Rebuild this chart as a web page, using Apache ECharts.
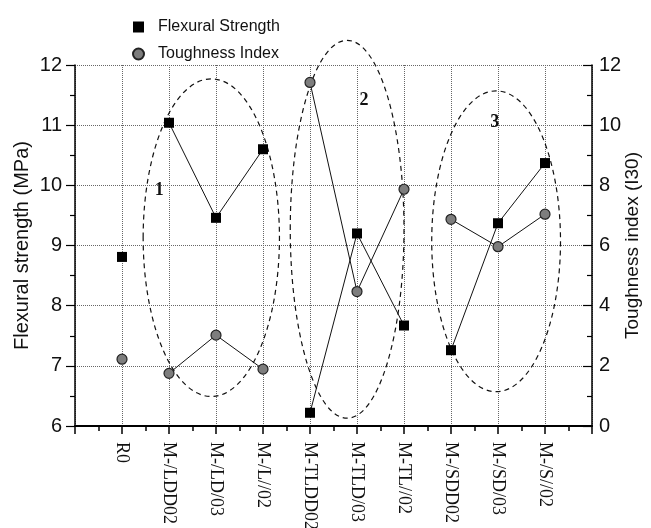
<!DOCTYPE html>
<html>
<head>
<meta charset="utf-8">
<script src="https://cdn.jsdelivr.net/npm/echarts@6/dist/echarts.min.js"></script>
<style>
  html, body { margin: 0; padding: 0; background: #fff; }
  #chart { width: 651px; height: 528px; }
</style>
</head>
<body>
<div id="chart"></div>
<script>
const categories = ['R0', 'M-/LDD02', 'M-/LD/03', 'M-/L//02', 'M-TLDD02', 'M-TLD/03', 'M-TL//02', 'M-/SDD02', 'M-/SD/03', 'M-/S//02'];
const flexural = [8.81, 11.04, 9.46, 10.60, 6.22, 9.20, 7.67, 7.26, 9.37, 10.37];
const toughness = [2.22, 1.75, 3.02, 1.89, 11.42, 4.47, 7.87, 6.87, 5.96, 7.04];
const groups = [[1, 2, 3], [4, 5, 6], [7, 8, 9]];
const groupNames = ['1', '2', '3'];
const leftTicks = [6, 12, 1];
const rightTicks = [0, 12, 2];

// annotation geometry in data units (x position, flexural scale)
const ellipseCenters = [[2.9, 9.13], [5.79, 9.27], [8.96, 9.07]];
const ellipseRadii = [[1.45, 2.64], [1.21, 3.14], [1.37, 2.5]];
const groupNameAt = [[1.79, 9.91], [6.15, 11.42], [8.93, 11.04]];

const chart = echarts.init(document.getElementById('chart'));
const sans = 'Liberation Sans, Arial, sans-serif';
const serif = 'Liberation Serif, Times New Roman, serif';

const lineSeries = [];
groups.forEach((g, gi) => {
  lineSeries.push({
    type: 'line', name: 'fs-line-' + gi, yAxisIndex: 0, symbol: 'none', silent: true,
    lineStyle: { color: '#111', width: 1 }, z: 2,
    data: g.map(i => [i + 1, flexural[i]])
  });
  lineSeries.push({
    type: 'line', name: 'ti-line-' + gi, yAxisIndex: 1, symbol: 'none', silent: true,
    lineStyle: { color: '#111', width: 1 }, z: 2,
    data: g.map(i => [i + 1, toughness[i]])
  });
});

const option = {
  backgroundColor: '#fff',
  animation: false,
  legend: {
    orient: 'vertical', left: 127, top: 14, itemGap: 11,
    itemWidth: 11, itemHeight: 11,
    textStyle: { fontFamily: sans, fontSize: 16, color: '#111', padding: [0, 0, 0, 9], lineHeight: 16 },
    data: [{ name: 'Flexural Strength', icon: 'rect' }, { name: 'Toughness Index', icon: 'circle' }]
  },
  grid: { left: 75, right: 59, top: 65, bottom: 102, containLabel: false, outerBoundsMode: 'none' },
  xAxis: {
    type: 'value', min: 0, max: categories.length + 1, interval: 1,
    axisLine: { show: true, lineStyle: { color: '#000', width: 2 } },
    axisTick: { show: true, length: 8, lineStyle: { color: '#000', width: 1.5 } },
    minorTick: { show: true, splitNumber: 2, length: 5, lineStyle: { color: '#000', width: 1.5 } },
    splitLine: { show: true, lineStyle: { color: '#666', type: 'dotted', width: 1 } },
    axisLabel: {
      rotate: -90, margin: 16, fontFamily: serif, fontSize: 18, color: '#111',
      formatter: v => categories[v - 1] || ''
    }
  },
  yAxis: [{
    type: 'value', min: leftTicks[0], max: leftTicks[1], interval: leftTicks[2], position: 'left',
    name: 'Flexural strength (MPa)', nameLocation: 'middle', nameRotate: 90, nameGap: 43, nameMoveOverlap: false,
    nameTextStyle: { fontFamily: sans, fontSize: 20, color: '#111' },
    axisLine: { show: true, lineStyle: { color: '#000', width: 1.5 } },
    axisTick: { show: true, inside: false, length: 9, lineStyle: { color: '#000', width: 1.2 } },
    minorTick: { show: true, splitNumber: 2, length: 5, lineStyle: { color: '#000', width: 1.2 } },
    splitLine: { show: true, lineStyle: { color: '#666', type: 'dotted', width: 1 } },
    axisLabel: { margin: 13, fontFamily: sans, fontSize: 20, color: '#111' }
  }, {
    type: 'value', min: rightTicks[0], max: rightTicks[1], interval: rightTicks[2], position: 'right',
    name: 'Toughness index (I30)', nameLocation: 'middle', nameRotate: 90, nameGap: 31, nameMoveOverlap: false,
    nameTextStyle: { fontFamily: sans, fontSize: 19, color: '#111' },
    axisLine: { show: true, lineStyle: { color: '#000', width: 1.5 } },
    axisTick: { show: true, inside: true, length: 9, lineStyle: { color: '#000', width: 1.2 } },
    minorTick: { show: true, splitNumber: 2, length: 5, lineStyle: { color: '#000', width: 1.2 } },
    splitLine: { show: false },
    axisLabel: { margin: 7, fontFamily: sans, fontSize: 20, color: '#111' }
  }],
  series: [
    ...lineSeries,
    {
      type: 'custom', name: 'groups', coordinateSystem: 'cartesian2d', xAxisIndex: 0, yAxisIndex: 0,
      clip: false, silent: true, z: 1,
      data: ellipseCenters.map((c, i) => [c[0], c[1], ellipseRadii[i][0], ellipseRadii[i][1], groupNameAt[i][0], groupNameAt[i][1], i]),
      renderItem: (params, api) => {
        const c = api.coord([api.value(0), api.value(1)]);
        const s = api.size([api.value(2), api.value(3)]);
        const t = api.coord([api.value(4), api.value(5)]);
        return {
          type: 'group',
          children: [{
            type: 'ellipse',
            shape: { cx: c[0], cy: c[1], rx: s[0], ry: s[1] },
            style: { fill: 'none', stroke: '#111', lineWidth: 1.2, lineDash: [5, 4] }
          }, {
            type: 'text',
            style: {
              x: t[0], y: t[1], text: groupNames[api.value(6)], align: 'center', verticalAlign: 'middle',
              font: 'bold 18px ' + serif, fill: '#111'
            }
          }]
        };
      }
    },
    {
      type: 'scatter', name: 'Flexural Strength', yAxisIndex: 0, symbol: 'rect', symbolSize: 10, z: 5,
      itemStyle: { color: '#000', opacity: 1 },
      data: flexural.map((v, i) => [i + 1, v])
    },
    {
      type: 'scatter', name: 'Toughness Index', yAxisIndex: 1, symbol: 'circle', symbolSize: 10, z: 5,
      itemStyle: { color: '#7d7d7d', borderColor: '#222', borderWidth: 1.2, opacity: 1 },
      data: toughness.map((v, i) => [i + 1, v])
    }
  ]
};
chart.setOption(option);
</script>
</body>
</html>
